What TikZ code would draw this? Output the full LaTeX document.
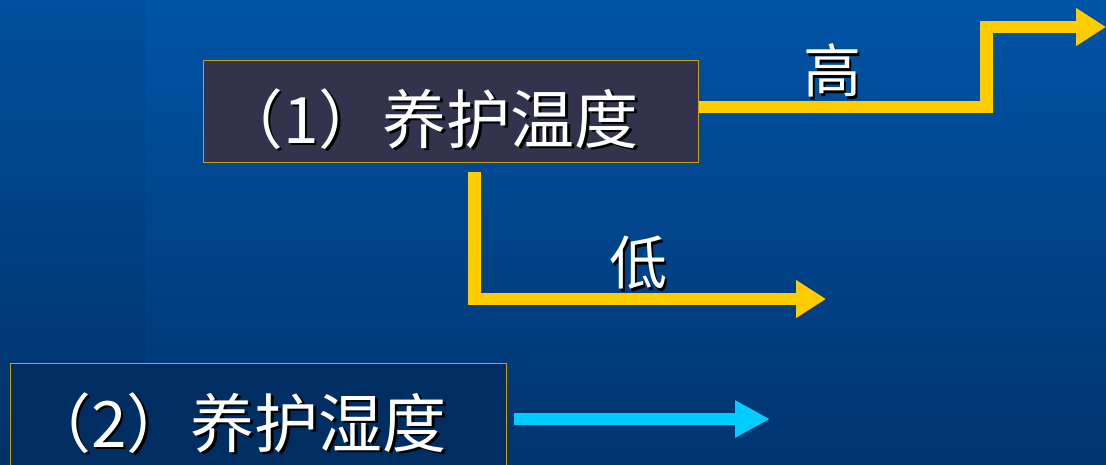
\documentclass[tikz,border=0pt]{standalone}
\usepackage{fontspec}
\newfontfamily\cjk{Noto Sans CJK SC}
\usetikzlibrary{arrows.meta}
\definecolor{bgtop}{RGB}{0,84,166}
\definecolor{bgbot}{RGB}{0,52,110}
\definecolor{boxone}{RGB}{51,51,77}
\definecolor{boxtwo}{RGB}{0,45,98}
\definecolor{gold}{RGB}{200,160,20}
\definecolor{ylw}{RGB}{255,204,0}
\definecolor{cyn}{RGB}{0,204,255}
\newcommand\shadowtxt[1]{\makebox[0pt][l]{\hspace{2.5pt}\raisebox{-2.5pt}{\color{black}#1}}#1}
\tikzset{
  boxstyle/.style={draw=gold, line width=1pt, minimum width=495pt, inner sep=0pt},
  txt/.style={text=white, font=\cjk\fontsize{64}{66}\selectfont, inner sep=0pt},
  lbl/.style={text=white, font=\cjk\fontsize{58}{60}\selectfont, inner sep=0pt},
  ylwline/.style={draw=ylw, line width=12.5pt},
  ylwarrow/.style={ylwline, -{Triangle[length=30pt,width=36pt]}},
  cynarrow/.style={draw=cyn, line width=12pt, -{Triangle[length=35pt,width=35pt]}}
}
\begin{document}
\begin{tikzpicture}[x=1pt,y=-1pt]
\useasboundingbox (0,0) rectangle (1106,464);
\shade[top color=bgtop, bottom color=bgbot] (0,0) rectangle (1106,464);
\fill[black, opacity=0.05] (0,0) rectangle (145,464);
% box 1
\node[boxstyle, fill=boxone, minimum height=102pt] (box1) at (450.5,111) {};
\node[txt] (t1) at (429,120) {\shadowtxt{（1）养护温度}};
% box 2
\node[boxstyle, fill=boxtwo, minimum width=496pt, minimum height=117pt] (box2) at (258,421.5) {};
\node[txt] (t2) at (237,424) {\shadowtxt{（2）养护湿度}};
% high branch
\coordinate (hiStart) at ([yshift=4pt]box1.east);
\coordinate (hiEnd) at (1106,27);
\draw[ylwarrow] (hiStart) -- (986.5,107) -- (986.5,27) -- (hiEnd);
\node[lbl] (hi) at (832,72) {\shadowtxt{高}};
% low branch
\coordinate (loStart) at (474.5,172);
\coordinate (loEnd) at (826,299);
\draw[ylwarrow] (loStart) |- (loEnd);
\node[lbl] (lo) at (638,264) {\shadowtxt{低}};
% humidity arrow
\coordinate (cyEnd) at (770,419);
\draw[cynarrow] ([xshift=7pt]box2.east |- cyEnd) -- (cyEnd);
\end{tikzpicture}
\end{document}
